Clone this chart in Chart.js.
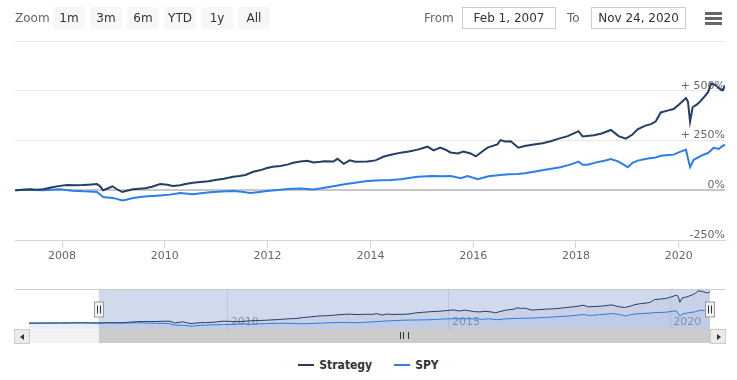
<!DOCTYPE html>
<html lang="en">
<head>
    <meta charset="UTF-8">
    <title>Strategy vs SPY</title>
    <style>
        body {
            margin: 0;
            font-family: "DejaVu Sans", sans-serif;
            background: #fff;
        }

        #wrap {
            position: relative;
            width: 737px;
            height: 380px;
            overflow: hidden;
        }

        #wrap > * {
            position: absolute;
        }

        .lbl {
            font-size: 12px;
            color: #666;
            top: 11px;
        }

        .btn {
            top: 7px;
            width: 32px;
            height: 22px;
            line-height: 22px;
            background: #f7f7f7;
            border-radius: 2px;
            font-size: 12px;
            color: #333;
            text-align: center;
        }

        .date {
            top: 7px;
            height: 20px;
            line-height: 20px;
            border: 1px solid #ccc;
            font-size: 12px;
            color: #333;
            text-align: center;
        }

        .bar {
            left: 705px;
            width: 17px;
            height: 3px;
            background: #666;
        }

        .sbtn {
            top: 329px;
            width: 14px;
            height: 13px;
            background: #ebebeb;
            border: 1px solid #ccc;
        }

        .sbtn i {
            position: absolute;
            top: 4px;
            left: 5px;
            width: 0;
            height: 0;
            border-top: 3px solid transparent;
            border-bottom: 3px solid transparent;
        }

        #legend {
            left: 0;
            width: 737px;
            top: 358px;
            display: flex;
            justify-content: center;
            font-family: "DejaVu Sans Condensed", "Liberation Sans Narrow", "DejaVu Sans", sans-serif;
            font-size: 12px;
            font-weight: bold;
            color: #333;
        }

        #legend span {
            display: flex;
            align-items: center;
            margin: 0 11px;
        }

        #legend b {
            display: inline-block;
            width: 16px;
            height: 2px;
            margin-right: 5px;
        }
    </style>
</head>
<body>
<div id="wrap">
    <canvas id="main" width="737" height="270" style="left:0;top:0"></canvas>
    <canvas id="nav" width="737" height="70" style="left:0;top:280px"></canvas>

    <div class="lbl" style="left:15px">Zoom</div>
    <div class="btn" style="left:53px">1m</div>
    <div class="btn" style="left:90px">3m</div>
    <div class="btn" style="left:127px">6m</div>
    <div class="btn" style="left:164px">YTD</div>
    <div class="btn" style="left:201px">1y</div>
    <div class="btn" style="left:238px">All</div>

    <div class="lbl" style="left:424px">From</div>
    <div class="date" style="left:462px;width:92px">Feb 1, 2007</div>
    <div class="lbl" style="left:567px">To</div>
    <div class="date" style="left:591px;width:93px">Nov 24, 2020</div>
    <div class="bar" style="top:12px"></div>
    <div class="bar" style="top:17px"></div>
    <div class="bar" style="top:22px"></div>

    <div id="track" style="top:329px;height:14px;background:#f2f2f2"></div>
    <div id="thumb" style="top:329px;height:14px;background:#ccc"></div>
    <div class="sbtn" style="left:14px"><i style="border-right:4px solid #333"></i></div>
    <div class="sbtn" style="left:710px"><i style="border-left:4px solid #333;left:6px"></i></div>

    <div id="legend"></div>
</div>
<script src="https://cdn.jsdelivr.net/npm/chart.js@4.4.0/dist/chart.umd.min.js"></script>
<script>
    // visible range (decimal years), Feb 1 2007 - Nov 24 2020
    const viewStart = 2007.085;
    const viewEnd = 2020.9;
    const navStart = 2005.51;

    const xTicks = [2008, 2010, 2012, 2014, 2016, 2018, 2020];
    const navTicks = [2010, 2015, 2020];
    const yTicks = [-250, 0, 250, 500, 750];

    // cumulative return, %
    const strategyYears = [2007.09, 2007.38, 2007.5, 2007.63, 2007.81, 2007.96, 2008.1, 2008.25, 2008.4, 2008.51,
        2008.68, 2008.74, 2008.80, 2008.90, 2008.98, 2009.07, 2009.17, 2009.38, 2009.5, 2009.62,
        2009.75, 2009.91, 2010.05, 2010.16, 2010.3, 2010.40, 2010.55, 2010.69, 2010.85, 2010.98,
        2011.15, 2011.33, 2011.45, 2011.57, 2011.72, 2011.85, 2011.99, 2012.1, 2012.25, 2012.4,
        2012.50, 2012.64, 2012.77, 2012.9, 2013.03, 2013.1, 2013.28, 2013.36, 2013.48, 2013.6,
        2013.71, 2013.94, 2014.1, 2014.25, 2014.4, 2014.59, 2014.75, 2014.92, 2015.11, 2015.23,
        2015.36, 2015.45, 2015.56, 2015.7, 2015.81, 2015.95, 2016.05, 2016.15, 2016.28, 2016.47,
        2016.53, 2016.62, 2016.73, 2016.88, 2017.0, 2017.18, 2017.35, 2017.51, 2017.65, 2017.84,
        2018.05, 2018.13, 2018.35, 2018.5, 2018.6, 2018.68, 2018.83, 2018.97, 2019.1, 2019.20,
        2019.35, 2019.46, 2019.55, 2019.65, 2019.78, 2019.90, 2020.0, 2020.14, 2020.18, 2020.22,
        2020.27, 2020.35, 2020.43, 2020.5, 2020.57, 2020.63, 2020.7, 2020.76, 2020.82, 2020.86,
        2020.90];
    const strategyValues = [0, 5, 3, 5, 15, 22, 26, 25, 26, 28,
        31, 20, 0, 10, 20, 5, -9, 5, 8, 10,
        18, 31, 28, 22, 25, 31, 38, 42, 45, 51,
        58, 68, 72, 77, 93, 100, 112, 118, 122, 130,
        138, 144, 148, 140, 143, 146, 144, 158, 133, 150,
        143, 144, 150, 168, 178, 189, 195, 204, 219, 200,
        214, 205, 190, 185, 195, 185, 170, 190, 214, 230,
        252, 245, 246, 214, 222, 230, 236, 246, 258, 272,
        297, 270, 276, 285, 295, 303, 272, 259, 280, 306,
        325, 332, 345, 391, 400, 408, 430, 463, 444, 345,
        417, 430, 450, 470, 493, 536, 530, 519, 505, 502,
        527];

    const spyYears = [2007.09, 2007.3, 2007.63, 2007.96, 2008.2, 2008.41, 2008.55, 2008.68, 2008.80, 2008.98,
        2009.05, 2009.17, 2009.25, 2009.38, 2009.6, 2009.91, 2010.1, 2010.30, 2010.55, 2010.7,
        2010.88, 2011.1, 2011.33, 2011.5, 2011.66, 2011.8, 2011.99, 2012.15, 2012.34, 2012.5,
        2012.64, 2012.89, 2013.05, 2013.28, 2013.5, 2013.7, 2013.94, 2014.2, 2014.4, 2014.59,
        2014.75, 2014.92, 2015.2, 2015.4, 2015.56, 2015.76, 2015.89, 2016.09, 2016.3, 2016.53,
        2016.7, 2016.86, 2017.0, 2017.18, 2017.4, 2017.70, 2017.9, 2018.05, 2018.13, 2018.23,
        2018.4, 2018.55, 2018.68, 2018.83, 2018.95, 2019.01, 2019.1, 2019.20, 2019.4, 2019.55,
        2019.65, 2019.75, 2019.90, 2020.0, 2020.14, 2020.22, 2020.29, 2020.45, 2020.57, 2020.68,
        2020.78, 2020.85, 2020.90];
    const spyValues = [0, 2, 0, 5, -2, -5, -6, -9, -34, -39,
        -42, -51, -48, -39, -32, -26, -22, -14, -20, -15,
        -10, -6, -4, -8, -14, -10, -4, 0, 5, 8,
        9, 4, 10, 20, 30, 38, 46, 50, 52, 55,
        62, 68, 72, 70, 71, 61, 71, 55, 70, 77,
        80, 82, 86, 93, 103, 116, 130, 144, 128, 128,
        140, 148, 157, 144, 125, 116, 138, 149, 160, 165,
        173, 176, 179, 190, 204, 116, 153, 175, 187, 213,
        208, 222, 230];

    // navigator only: history before the zoomed range
    const earlyYears = [2005.51, 2006.2, 2006.7];
    const earlyStrategy = [-2, 0, 3];
    const earlySpy = [-2, 0, 3];

    const darkBlue = '#243f63';
    const brightBlue = '#2b7fe8';

    const pts = (xs, ys) => xs.map((x, i) => ({x: x, y: ys[i]}));

    const mainChart = new Chart('main', {
        type: 'line',
        data: {
            datasets: [{
                label: 'Strategy',
                data: pts(strategyYears, strategyValues),
                borderColor: darkBlue,
                borderWidth: 2,
                pointRadius: 0
            }, {
                label: 'SPY',
                data: pts(spyYears, spyValues),
                borderColor: brightBlue,
                borderWidth: 2,
                pointRadius: 0
            }]
        },
        options: {
            responsive: false,
            animation: false,
            layout: {padding: {left: 15, right: 12, top: 41, bottom: 0}},
            plugins: {legend: {display: false}, tooltip: {enabled: false}},
            scales: {
                x: {
                    type: 'linear',
                    min: viewStart,
                    max: viewEnd,
                    afterBuildTicks: s => { s.ticks = xTicks.map(v => ({value: v})); },
                    afterFit: s => { s.height = 30; },
                    grid: {drawOnChartArea: false, tickLength: 8, color: '#ccd6eb'},
                    border: {color: '#ccd6eb'},
                    ticks: {
                        color: '#666',
                        font: {family: 'DejaVu Sans', size: 11},
                        padding: 2,
                        maxRotation: 0,
                        callback: v => String(v)
                    }
                },
                y: {
                    position: 'right',
                    min: -250,
                    max: 750,
                    afterBuildTicks: s => { s.ticks = yTicks.map(v => ({value: v})); },
                    afterFit: s => { s.width = 0; },
                    border: {display: false},
                    grid: {
                        drawTicks: false,
                        color: c => c.tick && c.tick.value === 0 ? '#c8c8c8' : '#e6e6e6',
                        lineWidth: c => c.tick && c.tick.value === 0 ? 2 : 1
                    },
                    ticks: {
                        mirror: true,
                        padding: 0,
                        labelOffset: -5,
                        color: '#666',
                        font: {family: 'DejaVu Sans', size: 11},
                        callback: v => v === 750 ? '' : (v > 0 ? '+ ' + v + '%' : v + '%')
                    }
                }
            }
        }
    });
    mainChart.canvas.style.position = 'absolute';

    const navDecor = {
        id: 'navDecor',
        beforeDatasetsDraw(chart) {
            const {ctx, chartArea: a, scales: {x}} = chart;
            ctx.save();
            // axis labels sit inside the navigator, right of each grid line
            ctx.fillStyle = '#999';
            ctx.font = '11px "DejaVu Sans"';
            ctx.textBaseline = 'alphabetic';
            x.ticks.forEach(t => ctx.fillText(String(t.value), x.getPixelForValue(t.value) + 3, a.bottom - 4));

            const x0 = x.getPixelForValue(viewStart);
            const x1 = x.getPixelForValue(viewEnd);
            ctx.fillStyle = 'rgba(102,133,194,0.3)';
            ctx.fillRect(x0, a.top, x1 - x0, a.bottom - a.top);
            ctx.strokeStyle = '#cccccc';
            ctx.lineWidth = 1;
            ctx.beginPath();
            ctx.moveTo(15, a.top - 0.5);
            ctx.lineTo(725, a.top - 0.5);
            ctx.stroke();
            ctx.restore();
        },
        afterDraw(chart) {
            const {ctx, chartArea: a, scales: {x}} = chart;
            const mid = (a.top + a.bottom) / 2;
            [viewStart, viewEnd].forEach(v => {
                const px = Math.round(x.getPixelForValue(v));
                ctx.save();
                ctx.fillStyle = '#f2f2f2';
                ctx.strokeStyle = '#999';
                ctx.lineWidth = 1;
                ctx.fillRect(px - 4.5, mid - 7.5, 9, 15);
                ctx.strokeRect(px - 4.5, mid - 7.5, 9, 15);
                ctx.strokeStyle = '#333';
                ctx.beginPath();
                ctx.moveTo(px - 1.5, mid - 4);
                ctx.lineTo(px - 1.5, mid + 4);
                ctx.moveTo(px + 1.5, mid - 4);
                ctx.lineTo(px + 1.5, mid + 4);
                ctx.stroke();
                ctx.restore();
            });
        }
    };

    const navChart = new Chart('nav', {
        type: 'line',
        data: {
            datasets: [{
                label: 'Strategy',
                data: pts(earlyYears.concat(strategyYears), earlyStrategy.concat(strategyValues)),
                borderColor: darkBlue,
                backgroundColor: 'rgba(36,63,99,0.05)',
                fill: 'start',
                borderWidth: 1,
                pointRadius: 0
            }, {
                label: 'SPY',
                data: pts(earlyYears.concat(spyYears), earlySpy.concat(spyValues)),
                borderColor: brightBlue,
                backgroundColor: 'rgba(43,127,232,0.05)',
                fill: 'start',
                borderWidth: 1,
                pointRadius: 0
            }]
        },
        options: {
            responsive: false,
            animation: false,
            layout: {padding: {left: 29, right: 27, top: 10, bottom: 0}},
            plugins: {legend: {display: false}, tooltip: {enabled: false}},
            scales: {
                x: {
                    type: 'linear',
                    min: navStart,
                    max: viewEnd,
                    afterBuildTicks: s => { s.ticks = navTicks.map(v => ({value: v})); },
                    afterFit: s => { s.height = 21; },
                    border: {display: false},
                    grid: {drawTicks: false, color: '#e6e6e6'},
                    ticks: {display: false}
                },
                y: {display: false, min: -100, max: 550}
            }
        },
        plugins: [navDecor]
    });
    navChart.canvas.style.position = 'absolute';

    // scrollbar follows the navigator scale
    const nx = navChart.scales.x;
    const track = document.getElementById('track');
    const thumb = document.getElementById('thumb');
    track.style.left = nx.left + 'px';
    track.style.width = (nx.right - nx.left) + 'px';
    const t0 = nx.getPixelForValue(viewStart);
    const t1 = nx.getPixelForValue(viewEnd);
    thumb.style.left = t0 + 'px';
    thumb.style.width = (t1 - t0) + 'px';
    thumb.innerHTML = '<div style="position:absolute;left:50%;top:3px;margin-left:-4px;width:7px;height:7px;' +
        'border-left:1px solid #333;border-right:1px solid #333"><div style="margin-left:2px;width:1px;height:7px;background:#333"></div></div>';

    const legend = document.getElementById('legend');
    mainChart.data.datasets.forEach(ds => {
        const item = document.createElement('span');
        item.innerHTML = '<b style="background:' + ds.borderColor + '"></b>' + ds.label;
        legend.appendChild(item);
    });
</script>
</body>
</html>
